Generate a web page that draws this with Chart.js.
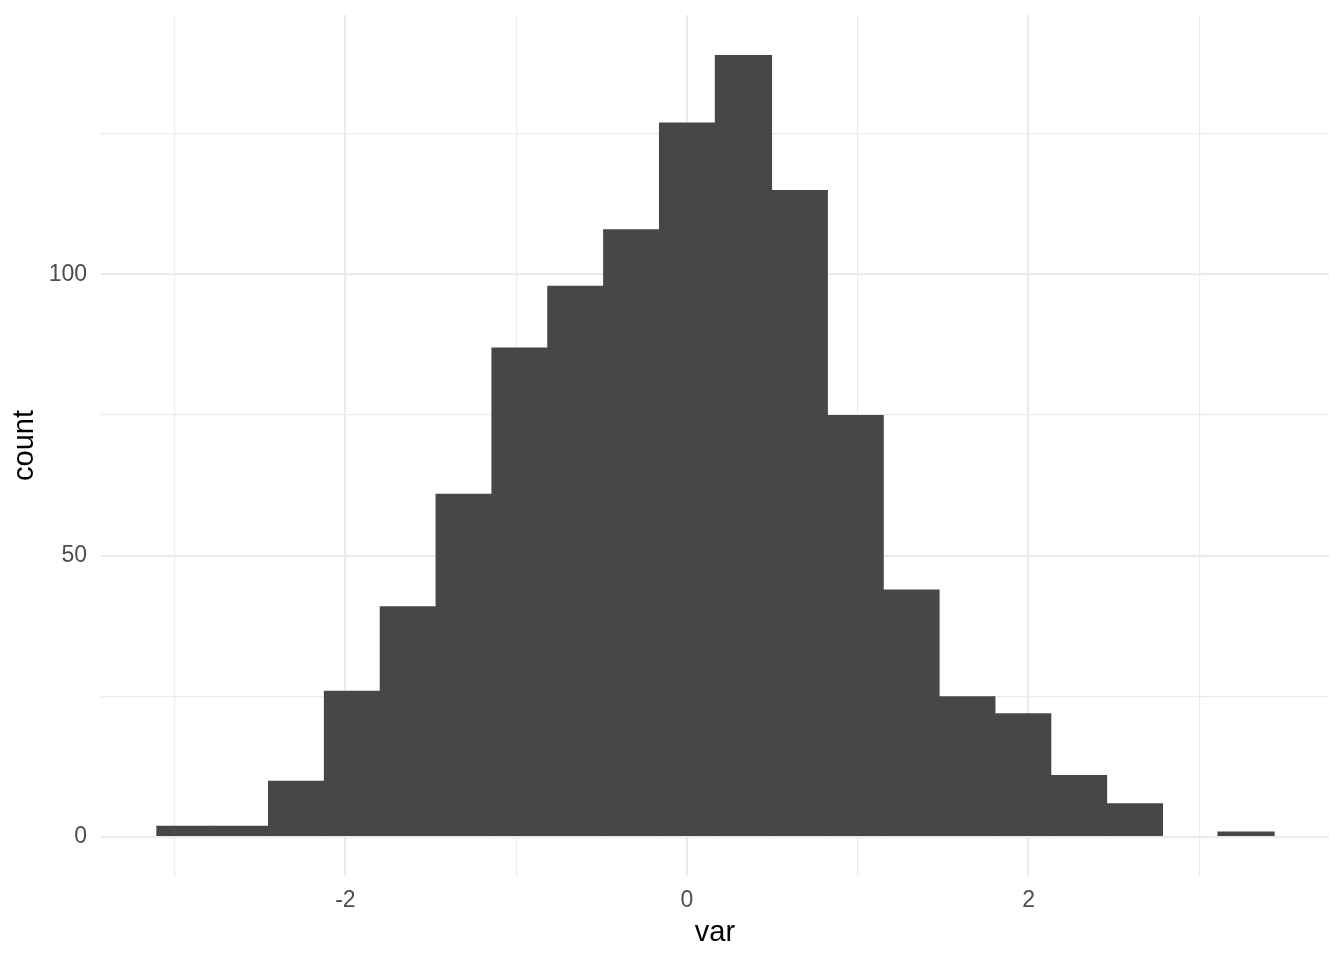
<!DOCTYPE html>
<html>
<head>
<meta charset="utf-8">
<script src="https://cdn.jsdelivr.net/npm/chart.js@4"></script>
<style>
  html, body { margin: 0; padding: 0; background: #fff; }
  #wrap { width: 1344px; height: 960px; }
</style>
</head>
<body>
<div id="wrap"><canvas id="myChart" width="1344" height="960"></canvas></div>
<script>
// histogram bins (centers) and counts
const binStart = -3.103
const binWidth = 0.327
const counts = [2, 2, 10, 26, 41, 61, 87, 98, 108, 127, 139, 115, 75, 44, 25, 22, 11, 6, 0, 1]
const binCenters = counts.map((c, i) => +(binStart + binWidth * (i + 0.5)).toFixed(4))

const xTicks = [-3, -2, -1, 0, 1, 2, 3]
const xLabels = [-2, 0, 2]
const yTicks = [0, 25, 50, 75, 100, 125]
const yLabels = [0, 50, 100]

const gridColor = '#EBEBEB'
const barColor = '#474747'
const fontFamily = '"Liberation Sans", Arial, Helvetica, sans-serif'

const points = binCenters.map((x, i) => ({ x: x, y: counts[i] }))

const data = {
    datasets: [{
        label: 'count',
        data: points,
        backgroundColor: (ctx) => (ctx.raw && ctx.raw.y === 0) ? 'rgba(0,0,0,0)' : barColor,
        borderWidth: 0,
        // a bit over 1 so neighbouring bars overlap and leave no seams
        barPercentage: 1.025,
        categoryPercentage: 1.0
    }]
}

const config = {
    type: 'bar',
    data: data,
    options: {
        responsive: false,
        animation: false,
        layout: { padding: { top: 15, right: 15, left: 0, bottom: 0 } },
        plugins: {
            legend: { display: false },
            tooltip: { enabled: false }
        },
        scales: {
            x: {
                type: 'linear',
                min: -3.431,
                max: 3.759,
                offset: false,
                border: { display: false },
                afterBuildTicks: (scale) => { scale.ticks = xTicks.map(v => ({ value: v })) },
                afterFit: (scale) => {
                    scale.height = 84
                    scale.paddingLeft = 0
                    scale.paddingRight = 0
                },
                grid: {
                    offset: false,
                    color: gridColor,
                    drawTicks: false,
                    lineWidth: (ctx) => xLabels.includes(ctx.tick && ctx.tick.value) ? 2.2 : 1.2
                },
                ticks: {
                    padding: 11,
                    color: '#4D4D4D',
                    font: { family: fontFamily, size: 23 },
                    maxRotation: 0,
                    autoSkip: false,
                    callback: (v) => xLabels.includes(v) ? String(v) : ''
                },
                title: {
                    display: true,
                    text: 'var',
                    color: '#000',
                    font: { family: fontFamily, size: 29, lineHeight: 1.2 },
                    padding: 10
                }
            },
            y: {
                type: 'linear',
                min: -6.93,
                max: 146.1,
                border: { display: false },
                afterBuildTicks: (scale) => { scale.ticks = yTicks.map(v => ({ value: v })) },
                afterFit: (scale) => {
                    scale.width = 101
                    scale.paddingTop = 0
                    scale.paddingBottom = 0
                },
                grid: {
                    offset: false,
                    color: gridColor,
                    drawTicks: false,
                    lineWidth: (ctx) => yLabels.includes(ctx.tick && ctx.tick.value) ? 2.2 : 1.2
                },
                ticks: {
                    padding: 14,
                    color: '#4D4D4D',
                    font: { family: fontFamily, size: 23 },
                    autoSkip: false,
                    callback: (v) => yLabels.includes(v) ? String(v) : ''
                },
                title: {
                    display: true,
                    text: 'count',
                    color: '#000',
                    font: { family: fontFamily, size: 29, lineHeight: 1.2 },
                    padding: { top: 8, bottom: 0 }
                }
            }
        }
    }
}

var myChart = new Chart(document.getElementById('myChart'), config)
</script>
</body>
</html>
